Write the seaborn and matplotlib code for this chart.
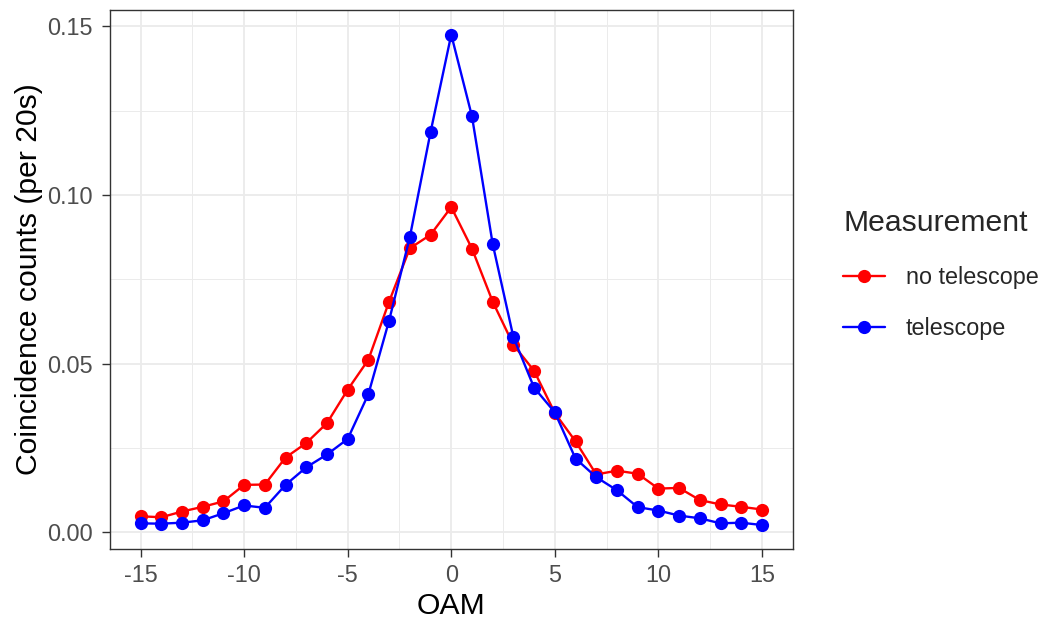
import numpy as np
import pandas as pd
import matplotlib
matplotlib.use("Agg")
import matplotlib.pyplot as plt
import seaborn as sns
from matplotlib.ticker import MultipleLocator

oam = list(range(-15, 16))
no_telescope = [0.0048, 0.0045, 0.0062, 0.0076, 0.0092, 0.0141, 0.0142, 0.0222, 0.0265, 0.0324,
                0.0423, 0.0512, 0.0684, 0.0842, 0.0882, 0.0964, 0.0841, 0.0684, 0.0556, 0.0479,
                0.0354, 0.0270, 0.0172, 0.0183, 0.0174, 0.0130, 0.0132, 0.0096, 0.0083, 0.0076, 0.0068]
telescope = [0.0027, 0.0026, 0.0029, 0.0036, 0.0057, 0.0080, 0.0073, 0.0141, 0.0193, 0.0231,
             0.0277, 0.0410, 0.0628, 0.0875, 0.1186, 0.1475, 0.1233, 0.0855, 0.0579, 0.0429,
             0.0356, 0.0219, 0.0164, 0.0125, 0.0075, 0.0065, 0.0050, 0.0042, 0.0027, 0.0029, 0.0022]
series_names = ["no telescope", "telescope"]
colors = ["#FF0000", "#0000FF"]

df = pd.DataFrame({
    "OAM": oam * 2,
    "counts": no_telescope + telescope,
    "Measurement": [series_names[0]] * len(oam) + [series_names[1]] * len(oam),
})

sns.set_theme(style="white")
plt.rcParams["font.family"] = ["Liberation Sans", "DejaVu Sans"]

W, H = 1046, 623
L, R, T, B = 109.5, 793, 10, 549
fig = plt.figure(figsize=(W / 100, H / 100), dpi=100)
ax = fig.add_axes([L / W, 1 - B / H, (R - L) / W, (B - T) / H])

sns.lineplot(data=df, x="OAM", y="counts", hue="Measurement",
             palette=dict(zip(series_names, colors)), marker="o",
             markersize=9.5, markeredgewidth=0, linewidth=1.7, ax=ax)

ax.set_xlim(-16.5, 16.5)
ax.set_ylim(-0.0049, 0.1548)
ax.xaxis.set_minor_locator(MultipleLocator(2.5))
ax.yaxis.set_minor_locator(MultipleLocator(0.025))
ax.set_yticks([0, 0.05, 0.10, 0.15])
ax.set_yticklabels(["0.00", "0.05", "0.10", "0.15"])
ax.set_xticks([-15, -10, -5, 0, 5, 10, 15])
ax.set_xticklabels(["-15", "-10", "-5", "0", "5", "10", "15"])

ax.grid(which="major", color="#EBEBEB", linewidth=1.3)
ax.grid(which="minor", color="#EBEBEB", linewidth=0.7)
ax.set_axisbelow(True)
for s in ax.spines.values():
    s.set_color("#333333")
    s.set_linewidth(1.0)
ax.tick_params(which="major", length=5.8, width=1.0, color="#333333",
               labelsize=16.8, labelcolor="#4D4D4D",
               bottom=True, left=True)
ax.tick_params(axis="x", which="major", pad=5.0)
ax.tick_params(axis="y", which="major", pad=6.3)
ax.tick_params(which="minor", length=0)

ax.set_xlabel("OAM", fontsize=21.7, color="black")
ax.set_ylabel("Coincidence counts (per 20s)", fontsize=21.7, color="black")
ax.xaxis.set_label_coords(0.5, (B - 592.5) / (B - T))
ax.yaxis.set_label_coords((43 - L) / (R - L), 0.5)

ax.legend_.remove()
handles, labels = ax.get_legend_handles_labels()
leg = fig.legend(handles, labels, title="Measurement", loc="upper left",
                 bbox_to_anchor=(843 / W, 1 - 209 / H), frameon=False,
                 fontsize=16.8, title_fontsize=21.7, handlelength=1.8,
                 handletextpad=0.9, labelspacing=1.23, alignment="left",
                 borderaxespad=0, borderpad=0)
for h in leg.legend_handles:
    h.set_markersize(9.5)
    h.set_linewidth(1.7)

fig.savefig("out.png", dpi=100)
